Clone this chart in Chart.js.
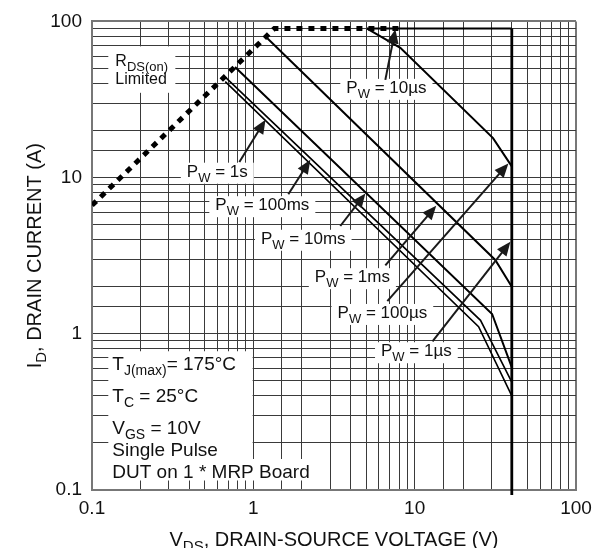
<!DOCTYPE html>
<html>
<head>
<meta charset="utf-8">
<script src="https://cdn.jsdelivr.net/npm/chart.js@4.4.1/dist/chart.umd.min.js"></script>
<style>
  html, body { margin: 0; padding: 0; background: #fff; }
  #wrap { width: 602px; height: 548px; }
</style>
</head>
<body>
<div id="wrap"><canvas id="soa" width="602" height="548"></canvas></div>
<script>
// Safe operating area (V in volts, I in amps)
const xTickLabels = ['0.1', '1', '10', '100'];
const yTickLabels = ['0.1', '1', '10', '100'];

// RDS(on) limit (dotted) and package limit
const rdsLimitV = [0.1, 1.35, 8.5];
const rdsLimitI = [6.65, 90, 90];

const boundaryTopV = [5.07, 40];
const boundaryTopI = [90, 90];
const boundaryDropV = [40, 40];
const boundaryDropI = [90, 0.093];

// pulse width curves, top to bottom
const curve10usV = [5.07, 8.15, 30.6, 40];
const curve10usI = [90, 67.8, 17.9, 11.8];
const curve1msV = [1.19, 31.6, 40];
const curve1msI = [80, 2.97, 2.0];
const curve10msV = [0.77, 30.2, 40];
const curve10msI = [51, 1.34, 0.61];
const curve100msV = [0.67, 25.6, 40];
const curve100msI = [44, 1.22, 0.49];
const curve1sV = [0.67, 24.9, 40];
const curve1sI = [41.2, 1.11, 0.40];

// pulse width callouts: label centre, arrow tail and arrow tip (V, I)
const pwNotes = [
  { text: 'P_{W} = 10µs',  at: [6.68, 37.0],  from: [6.58, 42.2], to: [7.59, 89] },
  { text: 'P_{W} = 1s',    at: [0.598, 10.75], from: [0.819, 12.6], to: [1.19, 23.5] },
  { text: 'P_{W} = 100ms', at: [1.137, 6.56],  from: [1.648, 7.82], to: [2.256, 13.0] },
  { text: 'P_{W} = 10ms',  at: [2.04, 4.0],    from: [3.46, 4.9],   to: [4.95, 7.9] },
  { text: 'P_{W} = 1ms',   at: [4.11, 2.27],   from: [6.58, 2.74],  to: [13.6, 6.6] },
  { text: 'P_{W} = 100µs', at: [6.31, 1.34],   from: [6.77, 1.62],  to: [38.1, 12.3] },
  { text: 'P_{W} = 1µs',   at: [10.25, 0.762], from: [12.9, 0.894], to: [39.2, 3.88] }
];

const rdsNote = ['R_{DS(on)}', 'Limited'];
const conditionLines = ['T_{J(max)}= 175°C', 'T_{C} = 25°C', 'V_{GS} = 10V', 'Single Pulse', 'DUT on 1 * MRP Board'];
const conditionBaselines = [0.586, 0.368, 0.228, 0.1654, 0.1201];

const FONT = '"Liberation Sans", Arial, Helvetica, sans-serif';

function pts(vs, is) {
  return vs.map((v, k) => ({ x: v, y: is[k] }));
}

// split 'P_{W} = 1s' into normal / subscript runs
function runs(str) {
  const out = [];
  str.split(/_\{([^}]*)\}/).forEach((t, k) => {
    if (t) out.push({ t: t, sub: k % 2 === 1 });
  });
  return out;
}

function richWidth(ctx, str, size, subSize) {
  let w = 0;
  runs(str).forEach(r => {
    ctx.font = (r.sub ? subSize : size) + 'px ' + FONT;
    w += ctx.measureText(r.t).width;
  });
  return w;
}

function drawRich(ctx, str, x, y, size, subSize, drop) {
  ctx.textAlign = 'left';
  ctx.textBaseline = 'alphabetic';
  runs(str).forEach(r => {
    ctx.font = (r.sub ? subSize : size) + 'px ' + FONT;
    ctx.fillText(r.t, x, y + (r.sub ? drop : 0));
    x += ctx.measureText(r.t).width;
  });
}

function arrow(ctx, x0, y0, x1, y1) {
  const a = Math.atan2(y1 - y0, x1 - x0);
  const len = 14, half = 6;
  ctx.beginPath();
  ctx.moveTo(x0, y0);
  ctx.lineTo(x1 - Math.cos(a) * len * 0.8, y1 - Math.sin(a) * len * 0.8);
  ctx.stroke();
  ctx.beginPath();
  ctx.moveTo(x1, y1);
  ctx.lineTo(x1 - Math.cos(a) * len - Math.sin(a) * half, y1 - Math.sin(a) * len + Math.cos(a) * half);
  ctx.lineTo(x1 - Math.cos(a) * len + Math.sin(a) * half, y1 - Math.sin(a) * len - Math.cos(a) * half);
  ctx.closePath();
  ctx.fill();
}

const notesPlugin = {
  id: 'notes',
  beforeDatasetsDraw(chart) {
    const ctx = chart.ctx, xs = chart.scales.x, ys = chart.scales.y;
    const px = v => xs.getPixelForValue(v), py = i => ys.getPixelForValue(i);
    ctx.save();
    ctx.fillStyle = '#fff';

    // white boxes over the grid
    pwNotes.forEach(n => {
      const w = richWidth(ctx, n.text, 17, 13) + 12;
      ctx.fillRect(px(n.at[0]) - w / 2, py(n.at[1]) - 10, w, 21);
    });
    ctx.fillRect(px(0.1262), py(69.2), px(0.3286) - px(0.1262), py(34.9) - py(69.2));
    ctx.beginPath();
    ctx.moveTo(px(0.1262), py(0.773));
    ctx.lineTo(px(0.99), py(0.773));
    ctx.lineTo(px(0.99), py(0.158));
    ctx.lineTo(px(2.1), py(0.158));
    ctx.lineTo(px(2.1), py(0.115));
    ctx.lineTo(px(0.1262), py(0.115));
    ctx.closePath();
    ctx.fill();

    ctx.fillStyle = '#111';
    pwNotes.forEach(n => {
      const w = richWidth(ctx, n.text, 17, 13);
      drawRich(ctx, n.text, px(n.at[0]) - w / 2, py(n.at[1]) + 4, 17, 13, 5);
    });
    drawRich(ctx, rdsNote[0], px(0.1395), py(51.8), 16, 13, 5);
    drawRich(ctx, rdsNote[1], px(0.1395), py(39.8), 16, 13, 5);
    conditionLines.forEach((t, k) => {
      drawRich(ctx, t, px(0.1336), py(conditionBaselines[k]), 19, 14, 5);
    });
    ctx.restore();
  },
  afterDatasetsDraw(chart) {
    const ctx = chart.ctx, xs = chart.scales.x, ys = chart.scales.y;
    ctx.save();
    ctx.strokeStyle = '#1a1a1a';
    ctx.fillStyle = '#1a1a1a';
    ctx.lineWidth = 2;
    pwNotes.forEach(n => {
      arrow(ctx,
        xs.getPixelForValue(n.from[0]), ys.getPixelForValue(n.from[1]),
        xs.getPixelForValue(n.to[0]), ys.getPixelForValue(n.to[1]));
    });
    ctx.restore();
  },
  afterDraw(chart) {
    const ctx = chart.ctx, area = chart.chartArea;
    const xTitle = 'V_{DS}, DRAIN-SOURCE VOLTAGE (V)';
    const yTitle = 'I_{D}, DRAIN CURRENT (A)';
    ctx.save();
    ctx.fillStyle = '#111';
    let w = richWidth(ctx, xTitle, 20, 15);
    drawRich(ctx, xTitle, (area.left + area.right) / 2 - w / 2, 546, 20, 15, 5);
    w = richWidth(ctx, yTitle, 20, 15);
    ctx.translate(41, (area.top + area.bottom) / 2);
    ctx.rotate(-Math.PI / 2);
    drawRich(ctx, yTitle, -w / 2, 0, 20, 15, 5);
    ctx.restore();
  }
};

function line(data, width, extra) {
  return Object.assign({
    data: data,
    showLine: true,
    borderColor: '#000',
    borderWidth: width,
    pointRadius: 0,
    tension: 0,
    fill: false
  }, extra || {});
}

const edgeWidth = c => (c.tick && c.tick.value === 100 ? 2 : 1);
const edgeColor = c => (c.tick && c.tick.value === 100 ? '#777' : '#3a3a3a');

new Chart(document.getElementById('soa'), {
  type: 'scatter',
  data: {
    datasets: [
      line(pts(rdsLimitV, rdsLimitI), 5, { borderDash: [6, 6], borderCapStyle: 'butt' }),
      line(pts(curve10usV, curve10usI), 2),
      line(pts(curve1msV, curve1msI), 2),
      line(pts(curve10msV, curve10msI), 2),
      line(pts(curve100msV, curve100msI), 1.6),
      line(pts(curve1sV, curve1sI), 1.6),
      line(pts(boundaryTopV, boundaryTopI), 2),
      line(pts(boundaryDropV, boundaryDropI), 2.8, { clip: false })
    ]
  },
  options: {
    responsive: false,
    animation: false,
    devicePixelRatio: 1,
    layout: { padding: { top: 15, right: 26, left: 0, bottom: 0 } },
    plugins: { legend: { display: false }, tooltip: { enabled: false } },
    scales: {
      x: {
        type: 'logarithmic',
        min: 0.1,
        max: 100,
        afterFit: s => { s.height = 58; },
        grid: { color: edgeColor, lineWidth: edgeWidth, drawTicks: false },
        border: { color: '#777', width: 2 },
        ticks: {
          autoSkip: false,
          maxRotation: 0,
          padding: 7,
          color: '#111',
          font: { family: FONT, size: 19 },
          callback: v => {
            const k = [0.1, 1, 10, 100].indexOf(Number(v));
            return k >= 0 ? xTickLabels[k] : '';
          }
        }
      },
      y: {
        type: 'logarithmic',
        min: 0.1,
        max: 100,
        afterFit: s => { s.width = 92; },
        grid: { color: edgeColor, lineWidth: edgeWidth, drawTicks: false },
        border: { color: '#777', width: 2 },
        ticks: {
          autoSkip: false,
          padding: 10,
          color: '#111',
          font: { family: FONT, size: 19 },
          callback: v => {
            const k = [0.1, 1, 10, 100].indexOf(Number(v));
            return k >= 0 ? yTickLabels[k] : '';
          }
        }
      }
    }
  },
  plugins: [notesPlugin]
});
</script>
</body>
</html>
